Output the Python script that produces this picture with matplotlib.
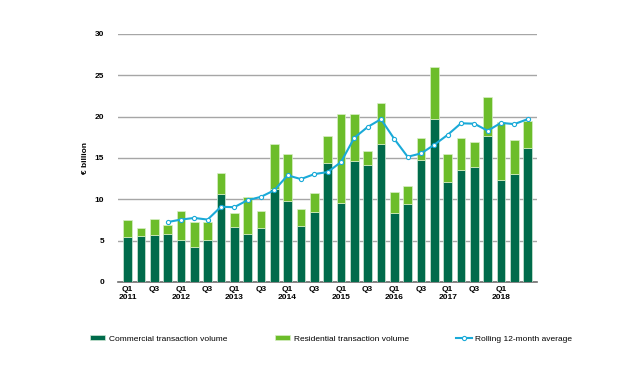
import matplotlib.pyplot as plt
import numpy as np

plt.rcParams['font.family'] = ['Liberation Sans', 'DejaVu Sans']

quarters = ["Q1\n2011", "", "Q3", "", "Q1\n2012", "", "Q3", "", "Q1\n2013", "", "Q3", "",
            "Q1\n2014", "", "Q3", "", "Q1\n2015", "", "Q3", "", "Q1\n2016", "", "Q3", "",
            "Q1\n2017", "", "Q3", "", "Q1\n2018", "", ""]

commercial = [5.45, 5.55, 5.65, 5.75, 5.05, 4.25, 5.1, 10.7, 6.6, 5.85, 6.5, 11.2,
              9.85, 6.8, 8.5, 14.35, 9.55, 14.6, 14.1, 16.75, 8.4, 9.4, 14.8, 19.7,
              12.15, 13.5, 13.95, 17.7, 12.3, 13.05, 16.25]
total = [7.45, 6.55, 7.6, 6.85, 8.6, 7.2, 7.2, 13.15, 8.3, 10.25, 8.6, 16.7,
         15.45, 8.8, 10.8, 17.7, 20.3, 20.35, 15.9, 21.65, 10.85, 11.65, 17.4, 26.05,
         15.45, 17.4, 16.95, 22.4, 19.3, 17.15, 19.45]
residential = [t - c for t, c in zip(total, commercial)]
rolling = [np.nan, np.nan, np.nan, 7.25, 7.55, 7.75, 7.55, 9.1, 9.05, 9.9, 10.3, 11.1,
           12.9, 12.45, 13.05, 13.3, 14.5, 17.45, 18.75, 19.7, 17.3, 15.15, 15.55, 16.6,
           17.8, 19.2, 19.15, 18.3, 19.25, 19.1, 19.7]

dark = '#006b4b'
light = '#6cbd2a'
cyan = '#1aaad8'

fig = plt.figure(figsize=(6.36, 3.77), dpi=100)
ax = fig.add_axes([118/636, 1 - 282/377, (537 - 118)/636, (282 - 34)/377])

x = np.arange(len(commercial))
b1 = ax.bar(x, commercial, width=0.66, color=dark, edgecolor='#cfe8d6', linewidth=0.5,
            label="Commercial transaction volume", zorder=3)
b2 = ax.bar(x, residential, bottom=commercial, width=0.66, color=light, edgecolor='#d8efc6',
            linewidth=0.5, label="Residential transaction volume", zorder=3)
l1, = ax.plot(x, rolling, color=cyan, lw=1.5, marker='o', ms=3, mfc='white', mec=cyan, mew=0.8,
              label="Rolling 12-month average", zorder=4)

ax.set_xlim(-0.72, len(x) - 0.3)
ax.set_ylim(0, 30)
ax.set_yticks([0, 5, 10, 15, 20, 25, 30])
ax.set_xticks(x)
ax.set_xticklabels(quarters, fontsize=6, fontweight='bold', linespacing=1.1)
ax.tick_params(axis='y', labelsize=6, length=0, pad=10)
ax.tick_params(axis='x', length=0, pad=3)
for lbl in ax.get_yticklabels():
    lbl.set_fontweight('bold')
ax.grid(axis='y', color='#a6a6a6', lw=1, zorder=0)
for s in ['top', 'right', 'left']:
    ax.spines[s].set_visible(False)
ax.spines['bottom'].set_color('#6e6e6e')
ax.spines['bottom'].set_linewidth(1.2)
ax.set_ylabel("€ billion", fontsize=6, fontweight='bold', labelpad=4)

fig.legend(handles=[b1, b2, l1], loc='center left', bbox_to_anchor=(82/636, 1 - 339/377),
           ncol=3, frameon=False, fontsize=6, columnspacing=5.7, handlelength=1.9,
           handletextpad=0.4, handleheight=0.5, numpoints=1)

fig.savefig("out.png", dpi=100)
